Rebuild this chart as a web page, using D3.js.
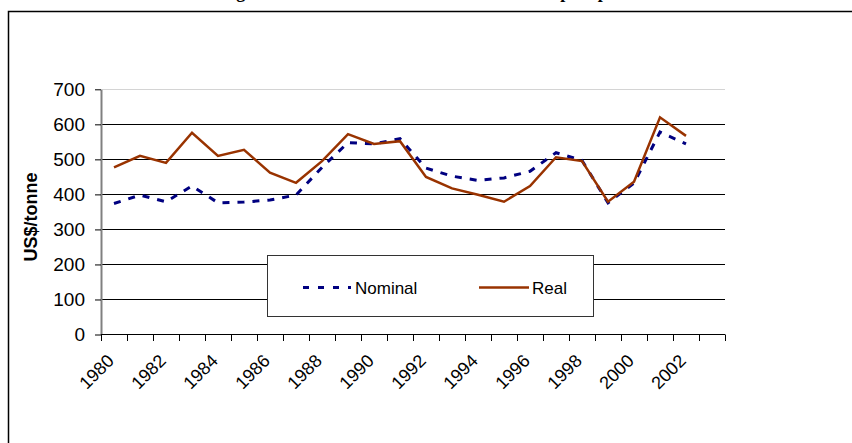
<!DOCTYPE html>
<html>
<head>
<meta charset="utf-8">
<script src="https://cdn.jsdelivr.net/npm/d3@7"></script>
<style>
  body { margin: 0; background: #fff; }
  svg { display: block; font-family: "Liberation Sans", Arial, sans-serif; }
</style>
</head>
<body>
<svg id="chart" width="852" height="443"></svg>
<script>
// data
const years = d3.range(1980, 2004)
const yearLabels = ['1980', '1982', '1984', '1986', '1988', '1990', '1992', '1994', '1996', '1998', '2000', '2002']
const nominal = [374, 398, 379, 424, 376, 378, 384, 398, 477, 548, 544, 559, 475, 452, 440, 447, 466, 519, 497, 376, 432, 578, 544]
const real = [477, 510, 490, 576, 510, 527, 462, 433, 495, 572, 544, 552, 450, 417, 399, 379, 424, 506, 495, 379, 436, 620, 567]
const yTicks = [0, 100, 200, 300, 400, 500, 600, 700]

const svg = d3.select('#chart')

// outer frame (clipped by the window on the right and bottom)
svg.append('rect')
  .attr('x', 8.5).attr('y', 11.5)
  .attr('width', 900).attr('height', 500)
  .attr('fill', 'none')
  .attr('stroke', '#000')
  .attr('stroke-width', 1.5)

// title, cut off above the window like in the source picture
svg.append('text')
  .attr('x', 432).attr('y', -2.5)
  .attr('text-anchor', 'middle')
  .style('font-family', '"Liberation Serif", "Times New Roman", serif')
  .style('font-weight', 'bold')
  .style('font-size', '18px')
  .text('Figure 5: Nominal and real world market export prices')

const x = d3.scaleBand().domain(years).range([101, 725])
const y = d3.scaleLinear().domain([0, 700]).range([334.5, 89.3])
const cx = d => x(d) + x.bandwidth() / 2

// gridlines
svg.append('g').selectAll('line')
  .data(yTicks.filter(d => d > 0))
  .enter().append('line')
  .attr('x1', 101).attr('x2', 725)
  .attr('y1', d => Math.round(y(d)) + 0.5)
  .attr('y2', d => Math.round(y(d)) + 0.5)
  .attr('stroke', d => d === 700 ? '#d4d4d4' : '#000')
  .attr('stroke-width', 1)

// y axis
const yAxis = svg.append('g')
  .attr('transform', 'translate(101,0)')
  .call(d3.axisLeft(y).tickValues(yTicks).tickSize(6).tickPadding(10).tickSizeOuter(0))
yAxis.select('.domain').attr('stroke', '#808080').attr('stroke-width', 2)
yAxis.selectAll('.tick line').attr('stroke', '#000')
yAxis.selectAll('.tick text')
  .style('font-size', '19px')
  .attr('fill', '#000')

// x axis line and ticks at category boundaries
svg.append('line')
  .attr('x1', 101).attr('x2', 725)
  .attr('y1', 334.5).attr('y2', 334.5)
  .attr('stroke', '#000')
svg.append('g').selectAll('line')
  .data(years.map(d => x(d)).concat([x.range()[1]]))
  .enter().append('line')
  .attr('x1', d => Math.round(d) + 0.5).attr('x2', d => Math.round(d) + 0.5)
  .attr('y1', 334.5).attr('y2', 341)
  .attr('stroke', '#000')

svg.append('g').selectAll('text')
  .data(yearLabels)
  .enter().append('text')
  .attr('transform', d => 'translate(' + (cx(+d) + 1) + ',362) rotate(-45)')
  .attr('text-anchor', 'end')
  .style('font-size', '18px')
  .text(d => d)

// y axis title
svg.append('text')
  .attr('transform', 'translate(37,217) rotate(-90)')
  .attr('text-anchor', 'middle')
  .style('font-size', '18px')
  .style('font-weight', 'bold')
  .text('US$/tonne')

// lines
const line = d3.line()
  .x((d, i) => cx(years[i]))
  .y(d => y(d))

svg.append('path')
  .datum(nominal)
  .attr('d', line)
  .attr('fill', 'none')
  .attr('stroke', '#000080')
  .attr('stroke-width', 3)
  .attr('stroke-dasharray', '7,8')

svg.append('path')
  .datum(real)
  .attr('d', line)
  .attr('fill', 'none')
  .attr('stroke', '#993300')
  .attr('stroke-width', 2.5)
  .attr('stroke-linejoin', 'miter')

// legend
const legend = svg.append('g')
legend.append('rect')
  .attr('x', 267.5).attr('y', 255.5)
  .attr('width', 326).attr('height', 61)
  .attr('fill', '#fff')
  .attr('stroke', '#333')
legend.append('line')
  .attr('x1', 303).attr('x2', 351)
  .attr('y1', 287.5).attr('y2', 287.5)
  .attr('stroke', '#000080')
  .attr('stroke-width', 3)
  .attr('stroke-dasharray', '6,9')
legend.append('text')
  .attr('x', 355).attr('y', 293.5)
  .style('font-size', '17px')
  .text('Nominal')
legend.append('line')
  .attr('x1', 479).attr('x2', 529)
  .attr('y1', 287.5).attr('y2', 287.5)
  .attr('stroke', '#993300')
  .attr('stroke-width', 2.5)
legend.append('text')
  .attr('x', 532).attr('y', 293.5)
  .style('font-size', '17px')
  .text('Real')
</script>
</body>
</html>
